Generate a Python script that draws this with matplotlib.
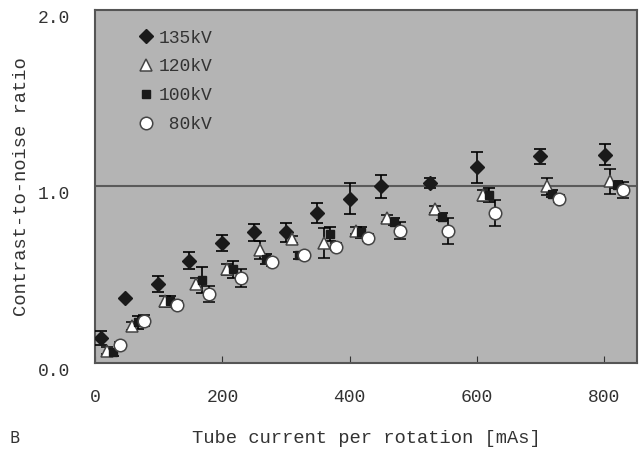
import matplotlib
matplotlib.use("Agg")
import matplotlib.pyplot as plt

# data (mAs, CNR, error)
x135 = [9, 47, 99, 148, 199, 249, 300, 349, 401, 450, 526, 601, 700, 802]
y135 = [0.14, 0.37, 0.45, 0.58, 0.68, 0.74, 0.74, 0.85, 0.93, 1.00, 1.02, 1.11, 1.17, 1.18]
e135 = [0.04, 0.0, 0.045, 0.047, 0.043, 0.05, 0.055, 0.057, 0.087, 0.066, 0.03, 0.088, 0.043, 0.06]

x120 = [18, 58, 110, 158, 208, 259, 310, 360, 410, 459, 535, 610, 710, 810]
y120 = [0.07, 0.21, 0.35, 0.45, 0.53, 0.64, 0.70, 0.68, 0.75, 0.82, 0.87, 0.95, 1.00, 1.03]
e120 = [0.02, 0.02, 0.03, 0.03, 0.03, 0.05, 0.02, 0.085, 0.02, 0.02, 0.02, 0.03, 0.05, 0.07]

x100 = [28, 67, 118, 168, 217, 269, 320, 369, 418, 470, 546, 619, 719, 820]
y100 = [0.06, 0.23, 0.35, 0.47, 0.53, 0.59, 0.61, 0.73, 0.74, 0.80, 0.83, 0.95, 0.96, 1.01]
e100 = [0.02, 0.035, 0.03, 0.075, 0.05, 0.03, 0.02, 0.04, 0.03, 0.02, 0.02, 0.04, 0.02, 0.02]

x80 = [39, 77, 129, 179, 230, 278, 329, 378, 429, 480, 555, 628, 729, 830]
y80 = [0.10, 0.24, 0.33, 0.39, 0.48, 0.57, 0.61, 0.66, 0.71, 0.75, 0.75, 0.85, 0.93, 0.98]
e80 = [0.02, 0.03, 0.02, 0.045, 0.05, 0.02, 0.02, 0.02, 0.02, 0.05, 0.073, 0.075, 0.02, 0.044]

mono = "Liberation Mono"
txt = "#333333"

fig = plt.figure(figsize=(6.39, 4.51), dpi=100)
ax = fig.add_axes([0.149, 0.195, 0.848, 0.783])
ax.set_facecolor("#b4b4b4")

ax.axhline(1.0, color="#5a5a5a", lw=1.5, zorder=1)

err_kw = dict(ecolor="black", elinewidth=1.2, capsize=4, capthick=1.2, ls="none", zorder=3)
c1 = ax.errorbar(x135, y135, yerr=e135, fmt="D", ms=7.5, mfc="#1a1a1a", mec="#1a1a1a", **err_kw)
c2 = ax.errorbar(x120, y120, yerr=e120, fmt="^", ms=8.5, mfc="white", mec="#444444", mew=1.1, **err_kw)
c3 = ax.errorbar(x100, y100, yerr=e100, fmt="s", ms=6, mfc="#1a1a1a", mec="#1a1a1a", **err_kw)
c4 = ax.errorbar(x80, y80, yerr=e80, fmt="o", ms=9, mfc="white", mec="#444444", mew=1.1, **err_kw)

ax.set_xlim(0, 852)
ax.set_ylim(0, 2.0)
ax.set_xticks([0, 200, 400, 600, 800])
ax.set_yticks([0.0, 1.0, 2.0])
ax.set_yticklabels(["0.0", "1.0", "2.0"])
ax.tick_params(axis="x", direction="in", length=5, pad=19, color="#333333",
               labelsize=13, labelcolor=txt)
ax.tick_params(axis="y", length=0, pad=18, labelsize=13, labelcolor=txt)
for lab in ax.get_xticklabels() + ax.get_yticklabels():
    lab.set_fontfamily(mono)
for lab in ax.get_yticklabels():
    lab.set_va("top")
for s in ax.spines.values():
    s.set_color("#555555")
    s.set_linewidth(1.5)

ax.set_xlabel("Tube current per rotation [mAs]", fontfamily=mono, fontsize=13.5,
              color=txt, labelpad=17)
ax.set_ylabel("Contrast-to-noise ratio", fontfamily=mono, fontsize=13.5,
              color=txt, labelpad=6)

leg = ax.legend([c1[0], c2[0], c3[0], c4[0]], ["135kV", "120kV", "100kV", " 80kV"],
                loc="upper left", bbox_to_anchor=(0.05, 0.99), frameon=False,
                handlelength=0.8, handletextpad=0.3, labelspacing=0.65,
                prop={"family": mono, "size": 13})
for t in leg.get_texts():
    t.set_color(txt)

fig.text(0.015, 0.018, "B", fontsize=11, color=txt)

plt.savefig("out.png", dpi=100)
